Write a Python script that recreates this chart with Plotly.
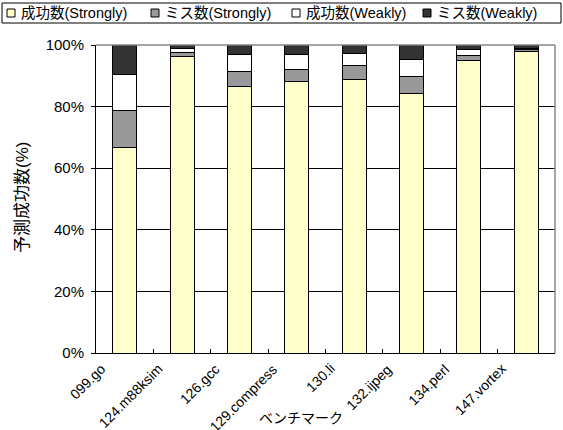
import plotly.graph_objects as go

categories = ["099.go", "124.m88ksim", "126.gcc", "129.compress", "130.li", "132.ijpeg", "134.perl", "147.vortex"]
success_strong = [66.6, 96.3, 86.6, 88.2, 88.9, 84.3, 94.9, 98.0]
miss_strong = [12.0, 1.3, 4.7, 3.8, 4.4, 5.4, 1.7, 0.7]
success_weak = [11.9, 1.4, 5.5, 4.9, 4.1, 5.7, 1.8, 0.3]
miss_weak = [9.5, 1.0, 3.2, 3.1, 2.6, 4.6, 1.6, 1.0]
y_ticks = [0, 20, 40, 60, 80, 100]
y_tick_text = ["0%", "20%", "40%", "60%", "80%", "100%"]

series = [
    ("成功数(Strongly)", success_strong, "#FFFFCC"),
    ("ミス数(Strongly)", miss_strong, "#999999"),
    ("成功数(Weakly)", success_weak, "#FFFFFF"),
    ("ミス数(Weakly)", miss_weak, "#333333"),
]
legend_x = [7, 151, 292, 423]  # pixel positions of legend swatches

font = "Liberation Sans, Arial, Noto Sans CJK JP, sans-serif"
W, H = 563, 430

fig = go.Figure()
for name, vals, color in series:
    fig.add_trace(go.Bar(
        x=categories, y=vals, name=name, width=0.42,
        marker=dict(color=color, line=dict(color="black", width=1)),
    ))

shapes = [
    dict(type="line", xref="paper", yref="paper", x0=0, x1=1, y0=1, y1=1,
         line=dict(color="#888888", width=1.5), layer="above"),
    dict(type="line", xref="paper", yref="paper", x0=1, x1=1, y0=0, y1=1,
         line=dict(color="#888888", width=1.5), layer="above"),
]
annotations = []

# manual legend (pixel -> paper conversion)
ml, mr, mt, mb = 96, 8, 45, 77
pw, ph = W - ml - mr, H - mt - mb
def px(x):
    return (x - ml) / pw
def py(y):
    return (H - mb - y) / ph

shapes.append(dict(type="rect", xref="paper", yref="paper",
                   x0=px(2), x1=px(561), y0=py(3), y1=py(23),
                   line=dict(color="black", width=1), fillcolor="white", layer="above"))
for (name, vals, color), lx in zip(series, legend_x):
    shapes.append(dict(type="rect", xref="paper", yref="paper",
                       x0=px(lx), x1=px(lx + 8), y0=py(9), y1=py(17),
                       line=dict(color="black", width=1), fillcolor=color, layer="above"))
    annotations.append(dict(text=name, xref="paper", yref="paper",
                            x=px(lx + 12), y=py(13), xanchor="left", yanchor="middle",
                            showarrow=False, font=dict(size=14.5, color="black")))

# rotated category labels (placed at category index on the x axis)
for i, c in enumerate(categories):
    annotations.append(dict(text=c, xref="x", yref="paper", x=i, y=0,
                            xanchor="right", yanchor="top", xshift=-14, yshift=-5,
                            textangle=-45, showarrow=False,
                            font=dict(size=14, color="black")))

annotations.append(dict(text="予測成功数(%)", xref="paper", yref="paper",
                        x=px(22), y=py(198), xanchor="center", yanchor="middle",
                        textangle=-90, showarrow=False, font=dict(size=17, color="black")))
annotations.append(dict(text="ベンチマーク", xref="paper", yref="paper",
                        x=px(301), y=py(418), xanchor="center", yanchor="middle",
                        showarrow=False, font=dict(size=14, color="black")))

fig.update_layout(
    barmode="stack",
    width=W, height=H,
    margin=dict(l=ml, r=mr, t=mt, b=mb, autoexpand=False),
    paper_bgcolor="white", plot_bgcolor="white",
    font=dict(family=font, size=12, color="black"),
    showlegend=False,
    xaxis=dict(
        type="category", range=[-0.5, len(categories) - 0.5],
        showline=True, linecolor="black", linewidth=1,
        ticks="inside", ticklen=4, tickcolor="black", tickson="boundaries",
        showticklabels=False,
        showgrid=False, automargin=False,
    ),
    yaxis=dict(
        range=[0, 100], tickvals=y_ticks, ticktext=y_tick_text,
        showline=True, linecolor="black", linewidth=1,
        ticks="outside", ticklen=4, tickcolor="black",
        ticklabelstandoff=4,
        showgrid=True, gridcolor="black", gridwidth=1,
        tickfont=dict(size=15), automargin=False,
    ),
    shapes=shapes,
    annotations=annotations,
)

fig.write_html("out.html")
